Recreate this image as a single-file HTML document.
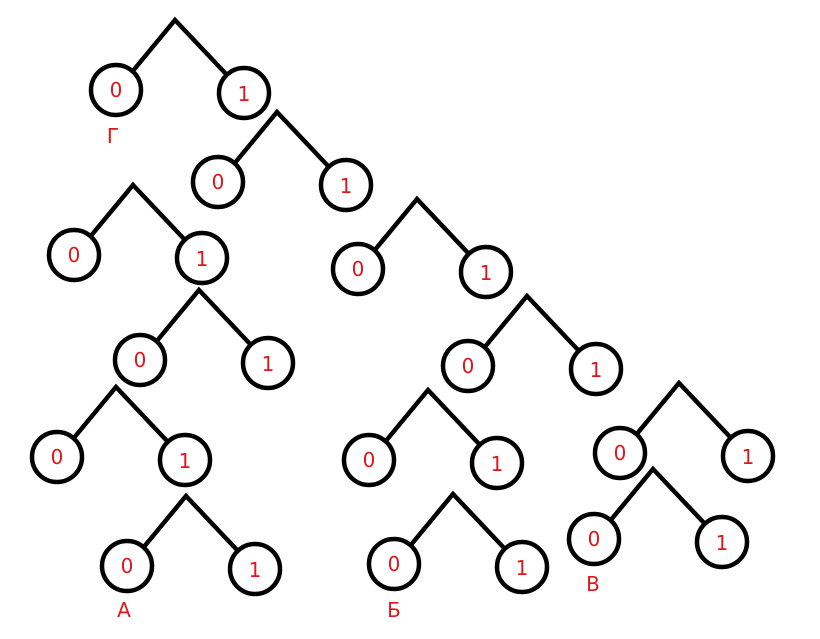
<!DOCTYPE html>
<html><head><meta charset="utf-8"><style>
html,body{margin:0;padding:0;background:#fff;}
svg{display:block;}
text{font-family:"DejaVu Sans","Liberation Sans",sans-serif;font-size:20px;fill:#e0161c;text-anchor:middle;}
</style></head><body>
<svg width="820" height="639" viewBox="0 0 820 639" xmlns="http://www.w3.org/2000/svg">
<defs>
<g id="u" fill="none" stroke="#000" stroke-width="4.5">
<polyline points="-43,52 0,0 52,55"/>
<circle cx="-59" cy="70" r="25"/>
<circle cx="69" cy="73" r="25"/>
</g>
</defs>
<g transform="translate(175,20)"><use href="#u"/><text x="-59" y="77">0</text><text x="69" y="81">1</text></g>
<g transform="translate(277,112)"><use href="#u"/><text x="-59" y="77">0</text><text x="69" y="81">1</text></g>
<g transform="translate(133,185)"><use href="#u"/><text x="-59" y="77">0</text><text x="69" y="81">1</text></g>
<g transform="translate(417,199)"><use href="#u"/><text x="-59" y="77">0</text><text x="69" y="81">1</text></g>
<g transform="translate(199,290)"><use href="#u"/><text x="-59" y="77">0</text><text x="69" y="81">1</text></g>
<g transform="translate(527,296)"><use href="#u"/><text x="-59" y="77">0</text><text x="69" y="81">1</text></g>
<g transform="translate(116,387)"><use href="#u"/><text x="-59" y="77">0</text><text x="69" y="81">1</text></g>
<g transform="translate(428,390)"><use href="#u"/><text x="-59" y="77">0</text><text x="69" y="81">1</text></g>
<g transform="translate(679,383)"><use href="#u"/><text x="-59" y="77">0</text><text x="69" y="81">1</text></g>
<g transform="translate(186,496)"><use href="#u"/><text x="-59" y="77">0</text><text x="69" y="81">1</text></g>
<g transform="translate(453,494)"><use href="#u"/><text x="-59" y="77">0</text><text x="69" y="81">1</text></g>
<g transform="translate(653,469)"><use href="#u"/><text x="-59" y="77">0</text><text x="69" y="81">1</text></g>
<text x="113" y="143">Г</text>
<text x="124" y="617">А</text>
<text x="394" y="617">Б</text>
<text x="593" y="591">В</text>
</svg>
</body></html>
